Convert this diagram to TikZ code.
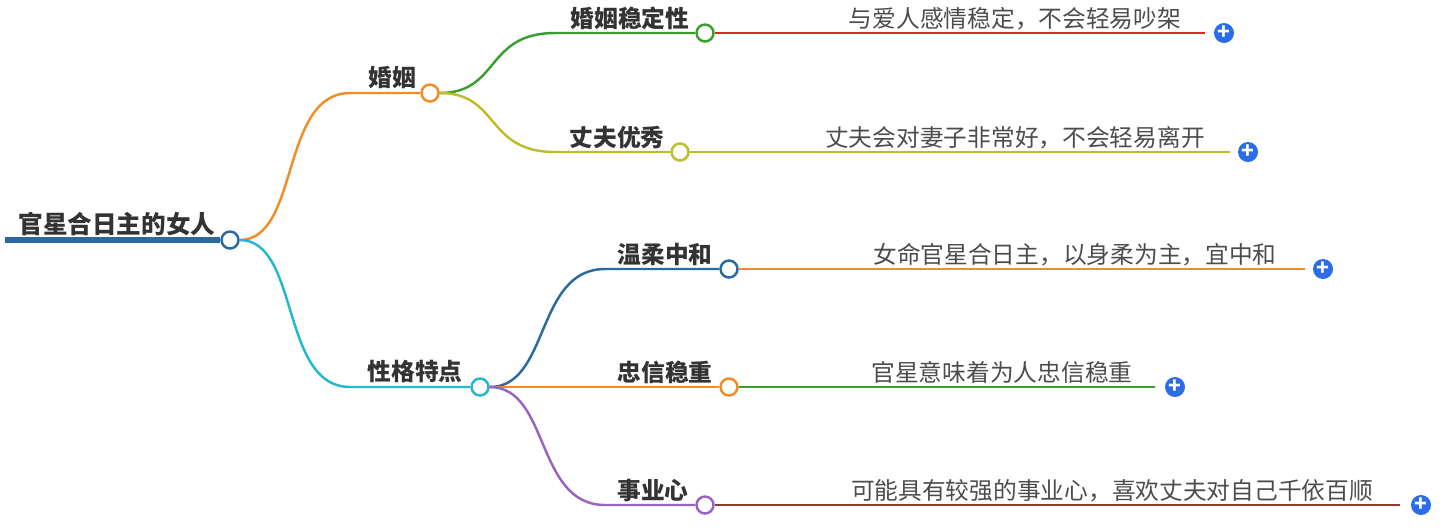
\documentclass[tikz,border=0pt]{standalone}
\usepackage{fontspec}
\setmainfont{Noto Sans CJK SC}
\usetikzlibrary{positioning}
\definecolor{corange}{HTML}{F28C28}
\definecolor{cgreen}{HTML}{3A9E2F}
\definecolor{cred}{HTML}{D92B2B}
\definecolor{colive}{HTML}{BDBD2A}
\definecolor{ccyan}{HTML}{22B8D0}
\definecolor{cblue}{HTML}{2A6AA0}
\definecolor{cpurple}{HTML}{9A62C2}
\definecolor{cbrown}{HTML}{8E3B2C}
\definecolor{cplus}{HTML}{2B6DE8}
\begin{document}
\begin{tikzpicture}[x=0.02cm,y=-0.02cm]
\tikzset{font=\fontsize{13.5}{15}\selectfont}
\tikzset{knot/.style={circle, draw=#1, fill=white, line width=1.4pt, inner sep=0pt, minimum size=0.34cm}}
\tikzset{title/.style={font=\fontsize{13.5}{15}\selectfont\bfseries, text=black!80, anchor=base}}
\tikzset{leaf/.style={text=black!70, anchor=base}}
\tikzset{branch/.style={draw=#1, line width=1.4pt}}
\tikzset{plus/.style={circle, fill=cplus, text=white, inner sep=0pt, minimum size=0.4cm, font=\bfseries\fontsize{12}{12}\selectfont}}
\useasboundingbox (0,0) rectangle (1444,529);
% root
\node[title, font=\fontsize{14}{16}\selectfont\bfseries] (root) at (117,233) {官星合日主的女人};
\coordinate (rootl) at (5,240);
\node[knot=cblue] (c0) at (230,240) {};
\draw[cblue, line width=3pt] (rootl) -- (c0);
% level one
\coordinate (m1) at (350,93);
\coordinate (m2) at (350,387);
\node[knot=corange] (c1) at (430,93) {};
\node[knot=ccyan] (c2) at (480,387) {};
\node[title] (t1) at (392,86) {婚姻};
\node[title] (t2) at (415,380) {性格特点};
\draw[branch=corange] (c0) .. controls +(70,0) and +(-70,0) .. (m1) -- (c1);
\draw[branch=ccyan] (c0) .. controls +(70,0) and +(-70,0) .. (m2) -- (c2);
% level two
\coordinate (a1) at (555,33);
\coordinate (a2) at (555,152);
\coordinate (b1) at (605,269);
\coordinate (b3) at (605,505);
\node[knot=cgreen] (d1) at (705,33) {};
\node[knot=colive] (d2) at (680,152) {};
\node[knot=cblue] (d3) at (729,269) {};
\node[knot=corange] (d4) at (729,387) {};
\node[knot=cpurple] (d5) at (705,505) {};
\node[title] (s1) at (630,27) {婚姻稳定性};
\node[title] (s2) at (617,146) {丈夫优秀};
\node[title] (s3) at (665,263) {温柔中和};
\node[title] (s4) at (665,381) {忠信稳重};
\node[title] (s5) at (653,499) {事业心};
\draw[branch=cgreen] (c1) .. controls +(70,0) and +(-70,0) .. (a1) -- (d1);
\draw[branch=colive] (c1) .. controls +(70,0) and +(-70,0) .. (a2) -- (d2);
\draw[branch=cblue] (c2) .. controls +(70,0) and +(-70,0) .. (b1) -- (d3);
\draw[branch=corange] (c2) -- (d4);
\draw[branch=cpurple] (c2) .. controls +(70,0) and +(-70,0) .. (b3) -- (d5);
% leaves
\coordinate (e1) at (1205,33);
\coordinate (e2) at (1230,152);
\coordinate (e3) at (1305,269);
\coordinate (e4) at (1155,387);
\coordinate (e5) at (1400,505);
\node[leaf] (l1) at (1015,27) {与爱人感情稳定，不会轻易吵架};
\node[leaf] (l2) at (1015,146) {丈夫会对妻子非常好，不会轻易离开};
\node[leaf] (l3) at (1075,263) {女命官星合日主，以身柔为主，宜中和};
\node[leaf] (l4) at (1002,381) {官星意味着为人忠信稳重};
\node[leaf] (l5) at (1112,499) {可能具有较强的事业心，喜欢丈夫对自己千依百顺};
\draw[cred, line width=1.2pt] (d1) -- (e1);
\draw[colive, line width=1.2pt] (d2) -- (e2);
\draw[corange, line width=1.2pt] (d3) -- (e3);
\draw[cgreen, line width=1.2pt] (d4) -- (e4);
\draw[cbrown, line width=1.2pt] (d5) -- (e5);
\node[plus] (p1) at (1224,33) {+};
\node[plus] (p2) at (1248,152) {+};
\node[plus] (p3) at (1323,269) {+};
\node[plus] (p4) at (1175,387) {+};
\node[plus] (p5) at (1421,505) {+};
\end{tikzpicture}
\end{document}
